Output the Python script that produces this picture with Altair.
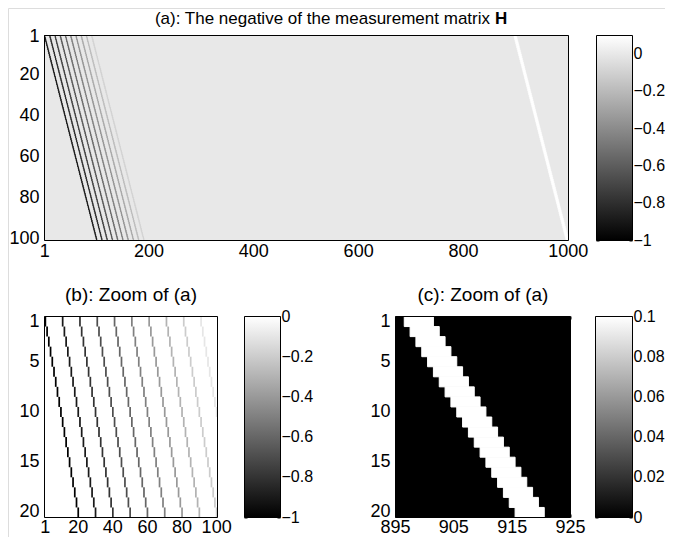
import altair as alt
import pandas as pd

# ---------------- data ----------------
N_ROWS = 100
N_COLS = 1000
# dark diagonal lines: in row i the line k sits in column i + offset_k
line_offsets = [0, 10, 20, 30, 40, 50, 60, 70, 80, 90]
line_values = [-1.0, -0.9, -0.8, -0.7, -0.6, -0.5, -0.4, -0.3, -0.2, -0.1]
# bright band: starts in column 897 in row 1, 5 columns wide, shifts one column per row
band_first_col = 897
band_width = 5
band_value = 0.1
background_value = 0.0

a_xticks = [1, 200, 400, 600, 800, 1000]
a_yticks = [1, 20, 40, 60, 80, 100]
b_xticks = [1, 20, 40, 60, 80, 100]
b_yticks = [1, 5, 10, 15, 20]
c_xticks = [895, 905, 915, 925]
c_yticks = [1, 5, 10, 15, 20]
cbar_a_ticks = [-1, -0.8, -0.6, -0.4, -0.2, 0]
cbar_b_ticks = [-1, -0.8, -0.6, -0.4, -0.2, 0]
cbar_c_ticks = [0, 0.02, 0.04, 0.06, 0.08, 0.1]

title_a = "(a): The negative of the measurement matrix"
title_a_bold = "H"
title_b = "(b): Zoom of (a)"
title_c = "(c): Zoom of (a)"

# ---------------- sparse matrix cells ----------------
rows, x0s, x1s, vals = [], [], [], []
for off, val in zip(line_offsets, line_values):
    for i in range(1, N_ROWS + 1):
        rows.append(i); x0s.append(i + off - 0.5); x1s.append(i + off + 0.5); vals.append(val)
for i in range(1, N_ROWS + 1):
    start = band_first_col + i - 1
    rows.append(i); x0s.append(start - 0.5); x1s.append(start - 0.5 + band_width); vals.append(band_value)
cells = pd.DataFrame({"row": rows, "x0": x0s, "x1": x1s, "v": vals})
cells["y0"] = cells["row"] - 0.5
cells["y1"] = cells["row"] + 0.5

# ---------------- layout ----------------
MARGIN = 8
W, H = 673 - 2 * MARGIN, 545 - 2 * MARGIN
FONT = "Liberation Sans"
FS = 18        # axis tick labels
FS_CB = 16     # colorbar labels

def page_box(x0, x1, y0, y1):
    return (x0 - MARGIN, x1 - MARGIN, y0 - MARGIN, y1 - MARGIN)

def axis_ticks(orient, values, offset, ts, labels=False, fmt="d", pad=2, size=FS):
    kw = dict(orient=orient, values=values, offset=offset, tickSize=ts, ticks=True,
              domain=False, grid=False, labels=labels, title=None, translate=0,
              tickColor="black", tickWidth=1)
    if labels:
        kw.update(labelFont=FONT, labelFontSize=size, labelColor="black", labelPadding=pad,
                  labelFlush=False, labelOverlap=False, labelBound=False, format=fmt)
    return alt.Axis(**kw)

def axis_title(text, x, y, align, weight, size):
    return alt.Axis(orient="top", ticks=False, labels=False, domain=False, grid=False,
                    offset=0, translate=0, title=text, titleFont=FONT, titleFontSize=size,
                    titleFontWeight=weight, titleColor="black", titleX=x, titleY=y,
                    titleAlign=align, titleBaseline="alphabetic")

def heat_panel(box, xdom, ydom, cdom, xticks, yticks, ts, cell_stroke, titles, xpad):
    x0, x1, y0, y1 = box
    sx = alt.Scale(domain=xdom, range=[x0, x1], zero=False, nice=False)
    sy = alt.Scale(domain=ydom, range=[y0, y1], zero=False, nice=False)
    sc = alt.Scale(domain=cdom, range=["#000000", "#ffffff"], interpolate="rgb", clamp=True)
    bg = pd.DataFrame({"x0": [xdom[0]], "x1": [xdom[1]], "y0": [ydom[0]], "y1": [ydom[1]],
                       "v": [background_value]})
    sub = cells[(cells.x0 >= xdom[0]) & (cells.x1 <= xdom[1]) &
                (cells.y0 >= ydom[0]) & (cells.y1 <= ydom[1])]
    layers = []
    layers.append(alt.Chart(bg).mark_rect().encode(
        x=alt.X("x0:Q", scale=sx, axis=axis_ticks("bottom", xticks, y1 - ts - H, ts, True, pad=xpad)),
        x2="x1:Q",
        y=alt.Y("y0:Q", scale=sy, axis=axis_ticks("left", yticks, -(x0 + ts), ts, True, pad=5)),
        y2="y1:Q",
        color=alt.Color("v:Q", scale=sc, legend=None)))
    enc = dict(
        x=alt.X("x0:Q", scale=sx, axis=axis_ticks("top", xticks, -(y0 + ts), ts)),
        x2="x1:Q",
        y=alt.Y("y0:Q", scale=sy, axis=axis_ticks("right", yticks, x1 - ts - W, ts)),
        y2="y1:Q",
        color=alt.Color("v:Q", scale=sc, legend=None))
    if cell_stroke > 0:
        enc["stroke"] = alt.Stroke("v:Q", scale=sc, legend=None)
        layers.append(alt.Chart(sub).mark_rect(strokeWidth=cell_stroke, strokeOpacity=1).encode(**enc))
    else:
        layers.append(alt.Chart(sub).mark_rect(strokeWidth=0).encode(**enc))
    for k, (text, tx, ty, align, weight, size) in enumerate(titles):
        if k == 0:
            mk = alt.Chart(bg).mark_rect(fillOpacity=0, stroke="black", strokeWidth=1)
        else:
            mk = alt.Chart(bg).mark_rect(fillOpacity=0, strokeOpacity=0)
        layers.append(mk.encode(
            x=alt.X("x0:Q", scale=sx, axis=axis_title(text, tx, ty, align, weight, size)),
            x2="x1:Q",
            y=alt.Y("y0:Q", scale=sy, axis=None),
            y2="y1:Q"))
    return layers

def colorbar(box, dom, ticks, ts):
    x0, x1, y0, y1 = box
    sx = alt.Scale(domain=[0, 1], range=[x0, x1], zero=False, nice=False)
    sy = alt.Scale(domain=dom, range=[y1, y0], zero=False, nice=False)
    d = pd.DataFrame({"c0": [0], "c1": [1], "lo": [dom[0]], "hi": [dom[1]]})
    grad = alt.LinearGradient(gradient="linear", x1=0, x2=0, y1=1, y2=0,
                              stops=[alt.GradientStop(offset=0, color="#000000"),
                                     alt.GradientStop(offset=1, color="#ffffff")])
    g = alt.Chart(d).mark_rect(fill=grad, stroke="black", strokeWidth=1).encode(
        x=alt.X("c0:Q", scale=sx, axis=None), x2="c1:Q",
        y=alt.Y("lo:Q", scale=sy,
                axis=axis_ticks("right", ticks, x1 - ts - W, ts, True, fmt="~g", pad=1, size=FS_CB)),
        y2="hi:Q")
    t = alt.Chart(d).mark_rect(fillOpacity=0, strokeOpacity=0).encode(
        x=alt.X("c0:Q", scale=sx, axis=None), x2="c1:Q",
        y=alt.Y("lo:Q", scale=sy, axis=axis_ticks("left", ticks, -(x0 + ts), ts)),
        y2="hi:Q")
    return [g, t]

# boxes given in page pixels, converted to chart pixels
ROW2_TOP, ROW2_BOT = 316.5, 517.5
A = page_box(44.5, 568.5, 35.5, 240.5)
B = page_box(44.5, 217.5, ROW2_TOP, ROW2_BOT)
C = page_box(395.5, 570.5, ROW2_TOP, ROW2_BOT)
CA = page_box(596.5, 632.5, 35.5, 240.5)
CB = page_box(244.5, 280.5, ROW2_TOP, ROW2_BOT)
CC = page_box(595.5, 632.5, ROW2_TOP, ROW2_BOT)

layers = []
layers += heat_panel(A, [0.5, N_COLS + 0.5], [0.5, N_ROWS + 0.5], [-1, 0.1], a_xticks, a_yticks, 5, 0.6,
                     [(title_a, 490 - MARGIN, 24 - MARGIN, "right", "normal", 17),
                      (title_a_bold, 495 - MARGIN, 24 - MARGIN, "left", "bold", 17)], 2)
layers += heat_panel(B, [0.5, 100.5], [0.5, 20.5], [-1, 0], b_xticks, b_yticks, 3, 0,
                     [(title_b, (B[0] + B[1]) / 2, 301 - MARGIN, "center", "normal", 19)], 1)
layers += heat_panel(C, [895, 925], [0.5, 20.5], [0, 0.1], c_xticks, c_yticks, 3, 1.0,
                     [(title_c, (C[0] + C[1]) / 2, 301 - MARGIN, "center", "normal", 19)], 1)
layers += colorbar(CA, [-1, 0.1], cbar_a_ticks, 3)
layers += colorbar(CB, [-1, 0], cbar_b_ticks, 3)
layers += colorbar(CC, [0, 0.1], cbar_c_ticks, 3)

chart = alt.layer(*layers).resolve_scale(
    x="independent", y="independent", color="independent", stroke="independent"
).resolve_axis(x="independent", y="independent").properties(
    width=W, height=H, autosize=alt.AutoSizeParams(type="none"), padding=0,
    background="white"
).configure_view(strokeWidth=0).configure(font=FONT)

chart.save("out.html", embed_options={"renderer": "svg", "actions": False})
